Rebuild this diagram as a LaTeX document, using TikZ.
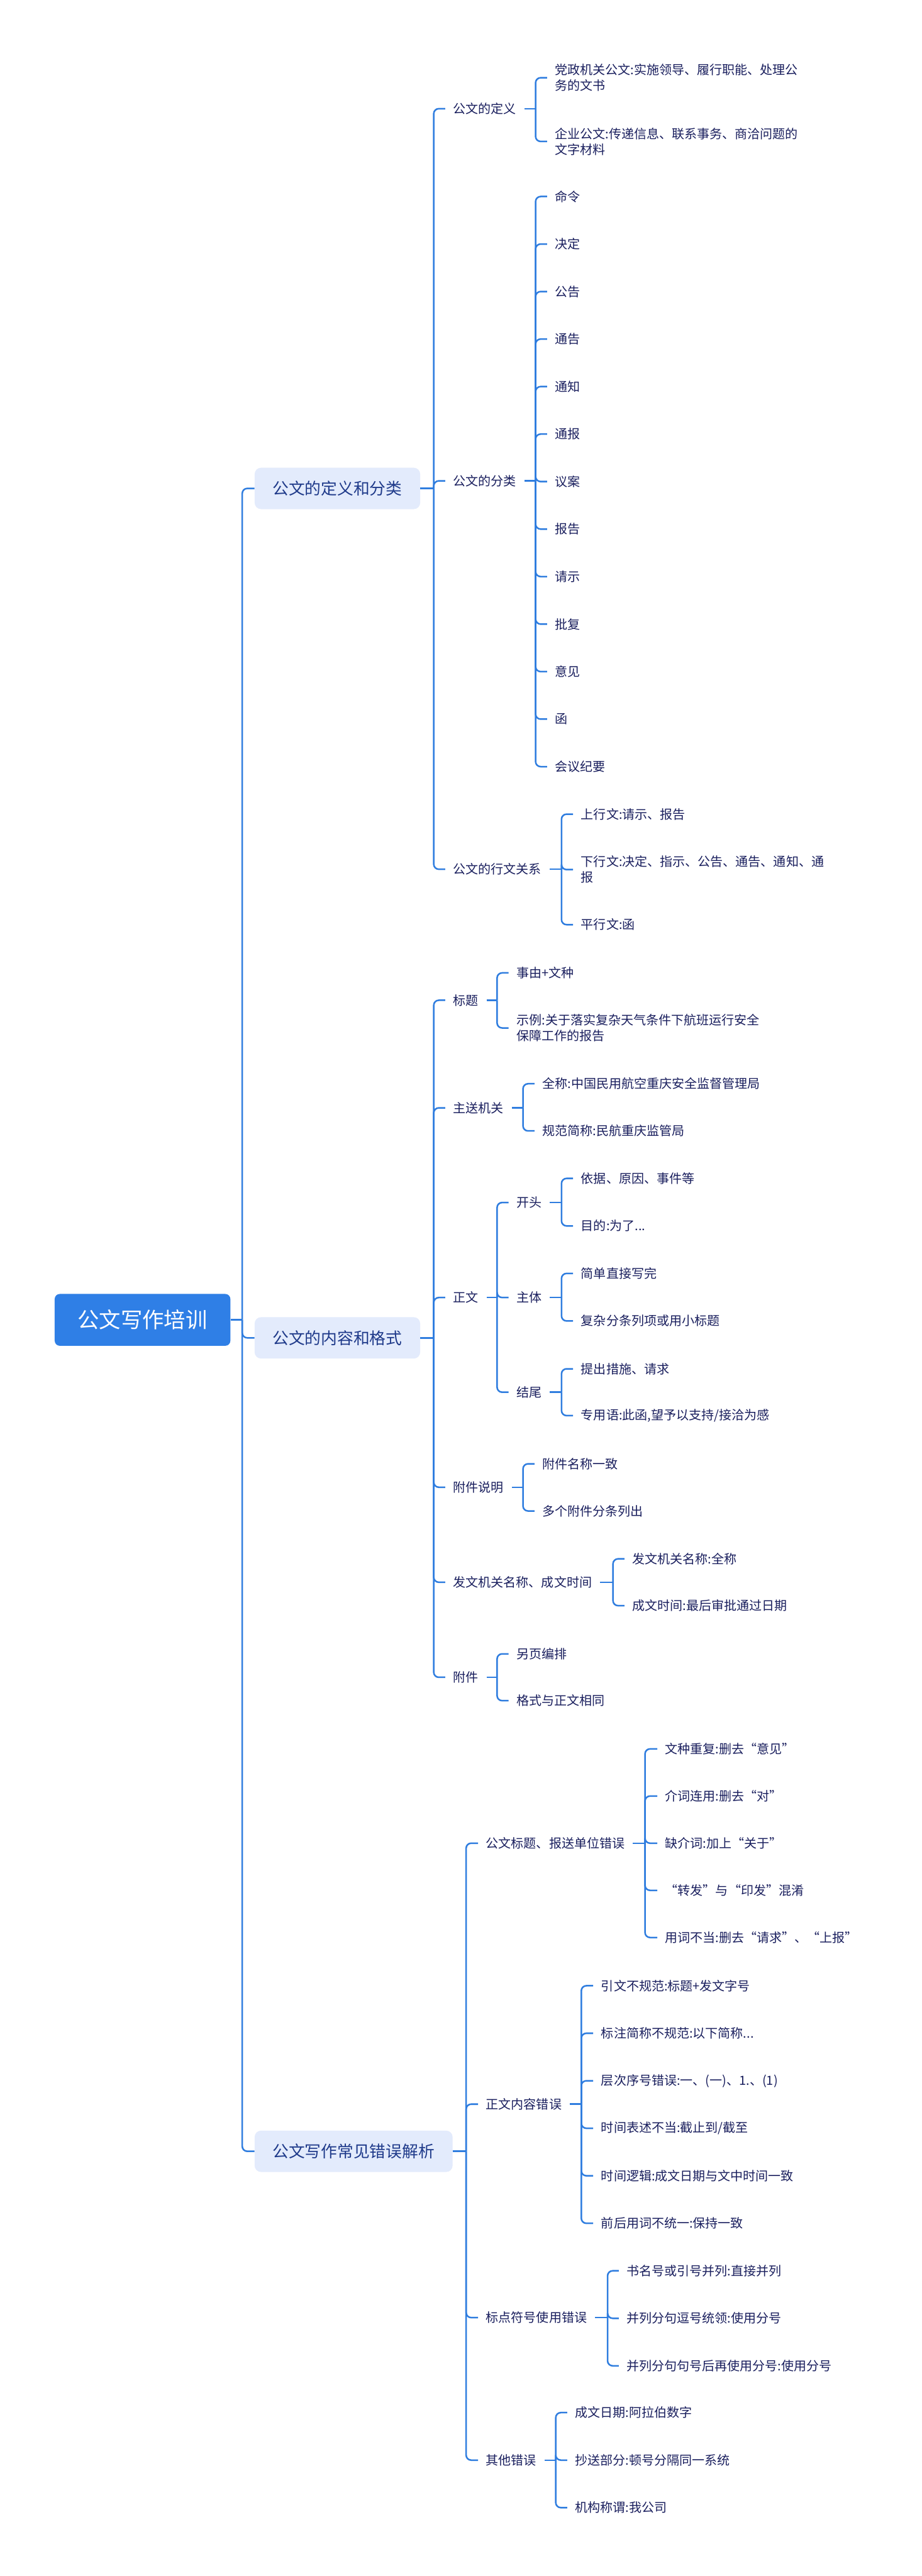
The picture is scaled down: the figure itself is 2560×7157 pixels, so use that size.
\documentclass[tikz,border=0pt]{standalone}
\usepackage{fontspec}
\setmainfont{Noto Sans CJK SC}
\usepackage{tikz}

\definecolor{linkblue}{HTML}{2F7DDF}
\definecolor{rootblue}{HTML}{2F7FE6}
\definecolor{topicfill}{HTML}{E3EBFC}
\definecolor{topictext}{HTML}{1F3A8A}
\definecolor{leaftext}{HTML}{1A1F5E}

\newcommand{\tridots}{...}

\tikzset{
	rootbox/.style={fill=rootblue,text=white,rounded corners=7pt,font=\fontsize{30}{35}\selectfont,minimum width=244pt,minimum height=72pt,inner sep=0pt},
	topic/.style={fill=topicfill,text=topictext,rounded corners=9pt,font=\fontsize{22.5}{27}\selectfont,inner xsep=25pt,minimum height=57.5pt,anchor=west},
	leaf/.style={text=leaftext,font=\fontsize{17.5}{22}\selectfont,inner xsep=11pt,inner ysep=0pt,anchor=west,align=left},
	conn/.style={draw=linkblue,line width=2.2pt,rounded corners=7pt},
}

\begin{document}
\begin{tikzpicture}[x=0.5pt,y=-0.5pt]
	\fill[white] (0,0) rectangle (2560,7157);
	\useasboundingbox (0,0) rectangle (2560,7157);

	% root and main topics
	\node[rootbox] (root) at (396,3667) {公文写作培训};
	\node[topic] (t1) at (707,1357) {公文的定义和分类};
	\node[topic] (t2) at (707,3717) {公文的内容和格式};
	\node[topic] (t3) at (707,5977) {公文写作常见错误解析};
	\draw[conn] (root.east) -- (673,3667);
	\foreach \t in {t1,t2,t3} \draw[conn] (673,3667) |- (\t.west);

	% 公文的定义和分类
	\node[leaf] (a1) at (1237,302) {公文的定义};
	\node[leaf] (a2) at (1237,1336) {公文的分类};
	\node[leaf] (a3) at (1237,2415) {公文的行文关系};
	\draw[conn] (t1.east) -- (1205,1357);
	\foreach \c in {a1,a2,a3} \draw[conn] (1205,1357) |- (\c.west);

	\node[leaf] (a11) at (1520,216) {党政机关公文:实施领导、履行职能、处理公\\务的文书};
	\node[leaf] (a12) at (1520,393) {企业公文:传递信息、联系事务、商洽问题的\\文字材料};
	\draw[conn] (a1.east) -- (1488,302);
	\foreach \c in {a11,a12} \draw[conn] (1488,302) |- (\c.west);

	\draw[conn] (a2.east) -- (1488,1336);
	\foreach \t [count=\i from 0] in {命令,决定,公告,通告,通知,通报,议案,报告,请示,批复,意见,函,会议纪要} {
		\node[leaf] (a2\i) at (1520,{546+132*\i}) {\t};
		\draw[conn] (1488,1336) |- (a2\i.west);
	}

	\node[leaf] (a31) at (1592,2262) {上行文:请示、报告};
	\node[leaf] (a32) at (1592,2416) {下行文:决定、指示、公告、通告、通知、通\\报};
	\node[leaf] (a33) at (1592,2569) {平行文:函};
	\draw[conn] (a3.east) -- (1560,2415);
	\foreach \c in {a31,a32,a33} \draw[conn] (1560,2415) |- (\c.west);

	% 公文的内容和格式
	\node[leaf] (b1) at (1237,2779) {标题};
	\node[leaf] (b2) at (1237,3078) {主送机关};
	\node[leaf] (b3) at (1237,3605) {正文};
	\node[leaf] (b4) at (1237,4132) {附件说明};
	\node[leaf] (b5) at (1237,4396) {发文机关名称、成文时间};
	\node[leaf] (b6) at (1237,4660) {附件};
	\draw[conn] (t2.east) -- (1205,3717);
	\foreach \c in {b1,b2,b3,b4,b5,b6} \draw[conn] (1205,3717) |- (\c.west);

	\node[leaf] (b11) at (1413,2703) {事由+文种};
	\node[leaf] (b12) at (1413,2856) {示例:关于落实复杂天气条件下航班运行安全\\保障工作的报告};
	\draw[conn] (b1.east) -- (1381,2779);
	\foreach \c in {b11,b12} \draw[conn] (1381,2779) |- (\c.west);

	\node[leaf] (b21) at (1485,3011) {全称:中国民用航空重庆安全监督管理局};
	\node[leaf] (b22) at (1485,3142) {规范简称:民航重庆监管局};
	\draw[conn] (b2.east) -- (1453,3078);
	\foreach \c in {b21,b22} \draw[conn] (1453,3078) |- (\c.west);

	\node[leaf] (b31) at (1413,3341) {开头};
	\node[leaf] (b32) at (1413,3605) {主体};
	\node[leaf] (b33) at (1413,3868) {结尾};
	\draw[conn] (b3.east) -- (1381,3605);
	\foreach \c in {b31,b32,b33} \draw[conn] (1381,3605) |- (\c.west);

	\node[leaf] (b311) at (1592,3274) {依据、原因、事件等};
	\node[leaf] (b312) at (1592,3406) {目的:为了\tridots};
	\node[leaf] (b321) at (1592,3538) {简单直接写完};
	\node[leaf] (b322) at (1592,3670) {复杂分条列项或用小标题};
	\node[leaf] (b331) at (1592,3803) {提出措施、请求};
	\node[leaf] (b332) at (1592,3933) {专用语:此函,望予以支持/接洽为感};
	\foreach \p/\y in {b31/3341,b32/3605,b33/3868} {
		\draw[conn] (\p.east) -- (1560,\y);
		\foreach \k in {1,2} \draw[conn] (1560,\y) |- (\p\k.west);
	}

	\node[leaf] (b41) at (1485,4067) {附件名称一致};
	\node[leaf] (b42) at (1485,4198) {多个附件分条列出};
	\draw[conn] (b4.east) -- (1453,4132);
	\foreach \c in {b41,b42} \draw[conn] (1453,4132) |- (\c.west);

	\node[leaf] (b51) at (1735,4331) {发文机关名称:全称};
	\node[leaf] (b52) at (1735,4461) {成文时间:最后审批通过日期};
	\draw[conn] (b5.east) -- (1703,4396);
	\foreach \c in {b51,b52} \draw[conn] (1703,4396) |- (\c.west);

	\node[leaf] (b61) at (1413,4595) {另页编排};
	\node[leaf] (b62) at (1413,4725) {格式与正文相同};
	\draw[conn] (b6.east) -- (1381,4660);
	\foreach \c in {b61,b62} \draw[conn] (1381,4660) |- (\c.west);

	% 公文写作常见错误解析
	\node[leaf] (c1) at (1328,5121) {公文标题、报送单位错误};
	\node[leaf] (c2) at (1328,5846) {正文内容错误};
	\node[leaf] (c3) at (1328,6439) {标点符号使用错误};
	\node[leaf] (c4) at (1328,6835) {其他错误};
	\draw[conn] (t3.east) -- (1295,5977);
	\foreach \c in {c1,c2,c3,c4} \draw[conn] (1295,5977) |- (\c.west);

	\draw[conn] (c1.east) -- (1792,5121);
	\foreach \t [count=\i] in {文种重复:删去“意见”,介词连用:删去“对”,缺介词:加上“关于”,“转发”与“印发”混淆,用词不当:删去“请求”、“上报”} {
		\node[leaf] (c1\i) at (1826,{4859+131*(\i-1)}) {\t};
		\draw[conn] (1792,5121) |- (c1\i.west);
	}

	\draw[conn] (c2.east) -- (1615,5846);
	\foreach \t [count=\i] in {引文不规范:标题+发文字号,标注简称不规范:以下简称\tridots,{层次序号错误:一、(一)、1.、(1)},时间表述不当:截止到/截至,时间逻辑:成文日期与文中时间一致,前后用词不统一:保持一致} {
		\node[leaf] (c2\i) at (1648,{5517+132*(\i-1)}) {\t};
		\draw[conn] (1615,5846) |- (c2\i.west);
	}

	\draw[conn] (c3.east) -- (1688,6439);
	\foreach \t [count=\i] in {书名号或引号并列:直接并列,并列分句逗号统领:使用分号,并列分句句号后再使用分号:使用分号} {
		\node[leaf] (c3\i) at (1719,{6309+132*(\i-1)}) {\t};
		\draw[conn] (1688,6439) |- (c3\i.west);
	}

	\draw[conn] (c4.east) -- (1544,6835);
	\foreach \t [count=\i] in {成文日期:阿拉伯数字,抄送部分:顿号分隔同一系统,机构称谓:我公司} {
		\node[leaf] (c4\i) at (1576,{6703+132*(\i-1)}) {\t};
		\draw[conn] (1544,6835) |- (c4\i.west);
	}
\end{tikzpicture}
\end{document}
